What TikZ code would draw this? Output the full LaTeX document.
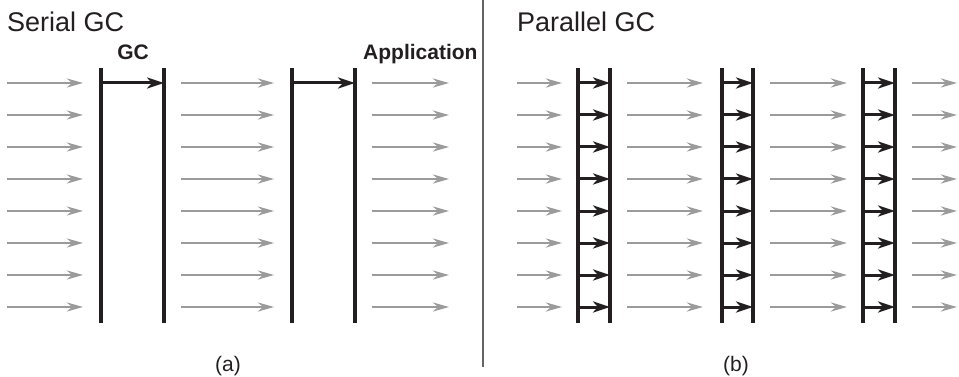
\documentclass[tikz,border=0pt]{standalone}
\usepackage{fontspec}
\setmainfont{Liberation Sans}
\usetikzlibrary{arrows.meta,positioning}
\definecolor{appgray}{RGB}{155,155,155}
\definecolor{gcblack}{RGB}{35,31,32}
\definecolor{rulegray}{RGB}{100,100,100}

\begin{document}
\begin{tikzpicture}[
            x=1pt,y=-1pt,
            every node/.style={inner sep=0pt},
            title/.style={anchor=base west,font=\fontsize{27}{31}\selectfont,text=gcblack},
            phase/.style={anchor=base,font=\fontsize{21}{25}\selectfont\bfseries,text=gcblack},
            caption/.style={anchor=base,font=\fontsize{21}{25}\selectfont,text=gcblack},
            thread/.style={draw=appgray,line width=2.7pt,-{Stealth[length=16pt,width=9pt,inset=5pt]}},
            collect/.style={draw=gcblack,line width=3pt,-{Stealth[length=17pt,width=11pt,inset=5pt]}},
            bar/.style={draw=gcblack,line width=3.1pt}
        ]
        \useasboundingbox (0,0) rectangle (959,377);

        % Draw serial side %
        \node[title] (serial) at (7,32) {Serial GC};
        \node[phase] (gclabel) at (133,60) {GC};
        \node[phase,anchor=base west] (applabel) at (363,60) {Application};
        \foreach \x in {101,164,292,355}
            \draw[bar] (\x,68) -- (\x,323);
        \foreach \r in {1,...,8} {
            \pgfmathsetmacro\y{51+32*\r}
            \foreach \a/\b [count=\i] in {7/83,181/274,372/449} {
                \coordinate (sa\i-\r) at (\a,\y);
                \coordinate (sb\i-\r) at (\b,\y);
                \draw[thread] (sa\i-\r) -- (sb\i-\r);
            }
        }
        \coordinate (sg1a) at (101,83);
        \coordinate (sg1b) at (164,83);
        \coordinate (sg2a) at (292,83);
        \coordinate (sg2b) at (355,83);
        \draw[collect] (sg1a) -- (sg1b);
        \draw[collect] (sg2a) -- (sg2b);
        \node[caption] (capa) at (228,371) {(a)};

        % Divider %
        \coordinate (dtop) at (483,0);
        \coordinate (dbot) at (483,367);
        \draw[draw=rulegray,line width=1.5pt] (dtop) -- (dbot);

        % Draw parallel side %
        \node[title] (parallel) at (517,32) {Parallel GC};
        \foreach \x in {578,610,722,753,863,895}
            \draw[bar] (\x,68) -- (\x,323);
        \foreach \r in {1,...,8} {
            \pgfmathsetmacro\y{51+32*\r}
            \foreach \a/\b [count=\i] in {517/562,627/703,770/847,912/957} {
                \coordinate (pa\i-\r) at (\a,\y);
                \coordinate (pb\i-\r) at (\b,\y);
                \draw[thread] (pa\i-\r) -- (pb\i-\r);
            }
            \foreach \a/\b [count=\i] in {578/610,722/753,863/895} {
                \coordinate (ga\i-\r) at (\a,\y);
                \coordinate (gb\i-\r) at (\b,\y);
                \draw[collect] (ga\i-\r) -- (gb\i-\r);
            }
        }
        \node[caption] (capb) at (736,371) {(b)};
\end{tikzpicture}
\end{document}
